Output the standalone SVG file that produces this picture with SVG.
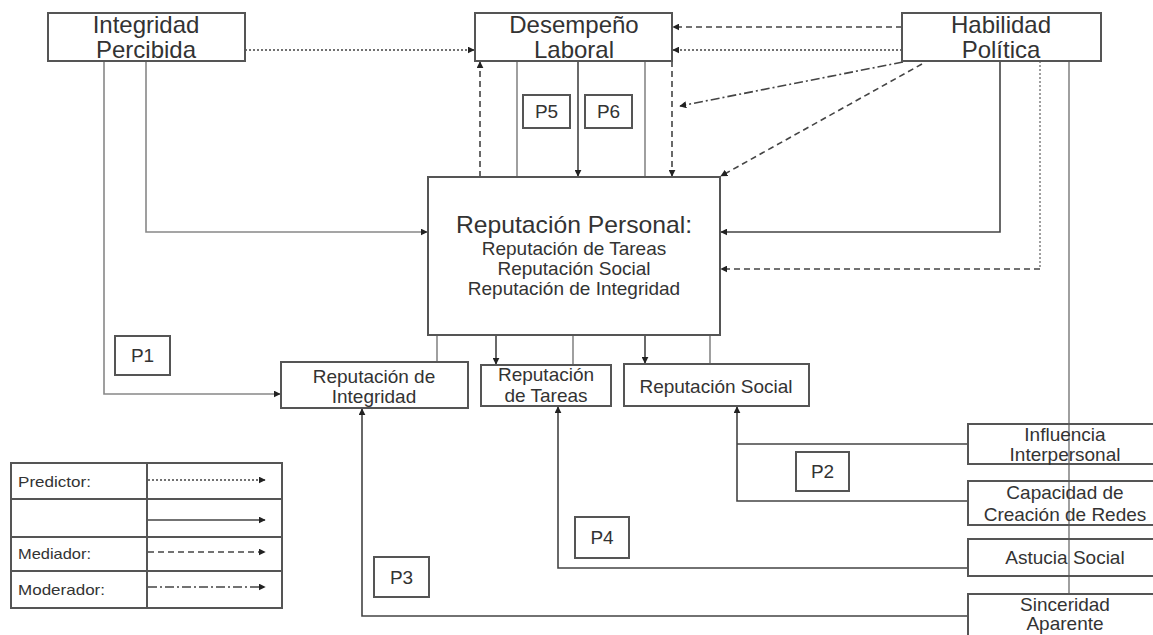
<svg xmlns="http://www.w3.org/2000/svg" width="1153" height="635" viewBox="0 0 1153 635">
  <style>
    text { font-family: "Liberation Sans", Arial, sans-serif; fill: #333; text-anchor: middle; }
    .box { fill: none; stroke: #555; stroke-width: 2; }
    .t24 { font-size: 24px; }
    .t19 { font-size: 19px; }
    .t15 { font-size: 15px; text-anchor: start; }
    .ln { fill: none; stroke: #444; stroke-width: 1.6; }
    .gray { fill: none; stroke: #888; stroke-width: 1.6; }
    .pred { stroke-dasharray: 2 2; }
    .med { stroke-dasharray: 6 4; }
    .mod { stroke-dasharray: 9 3 2 3; }
  </style>
  <defs>
    <marker id="arr" viewBox="0 0 10 10" refX="9" refY="5" markerWidth="7" markerHeight="7" markerUnits="userSpaceOnUse" orient="auto">
      <path d="M0,0 L10,5 L0,10 z" fill="#222"/>
    </marker>
  </defs>

  <rect width="1153" height="635" fill="#fff"/>

  <!-- connectors -->
  <g id="connectors">
    <!-- Integridad Percibida -->
    <path class="ln pred" d="M245,50 H474" marker-end="url(#arr)"/>
    <path class="gray" d="M104,61 V394 H280" marker-end="url(#arr)"/>
    <path class="gray" d="M146,61 V232 H427" marker-end="url(#arr)"/>

    <!-- Habilidad Política to Desempeño Laboral -->
    <path class="ln med" d="M902,27 H673" marker-end="url(#arr)"/>
    <path class="ln pred" d="M902,50 H673" marker-end="url(#arr)"/>

    <!-- Desempeño Laboral / Reputación Personal -->
    <path class="ln med" d="M480,177 V62" marker-end="url(#arr)"/>
    <path class="ln" d="M578,61 V176" marker-end="url(#arr)"/>
    <path class="ln med" d="M672,61 V176" marker-end="url(#arr)"/>
    <path class="gray" d="M517,61 V177"/>
    <path class="gray" d="M645,61 V177"/>

    <!-- Habilidad Política diagonals -->
    <path class="ln mod" d="M903,62 L680,106" marker-end="url(#arr)"/>
    <path class="ln med" d="M922,64 L721,176" marker-end="url(#arr)"/>

    <!-- Habilidad Política to Reputación Personal -->
    <path class="ln" d="M1000,61 V232 H721" marker-end="url(#arr)"/>
    <path class="gray pred" d="M1040,61 V269"/>
    <path class="ln med" d="M1040,269 H721" marker-end="url(#arr)"/>
    <path class="gray" d="M1069,61 V594"/>

    <!-- Reputación Personal to components -->
    <path class="gray" d="M437,335 V362"/>
    <path class="ln" d="M496,335 V364" marker-end="url(#arr)"/>
    <path class="gray" d="M573,335 V365"/>
    <path class="ln" d="M645,335 V363" marker-end="url(#arr)"/>
    <path class="gray" d="M710,335 V364"/>

    <!-- political skill dimensions to components -->
    <path class="ln" d="M968,444 H737"/>
    <path class="ln" d="M968,501 H737 V407" marker-end="url(#arr)"/>
    <path class="ln" d="M968,568 H558 V407" marker-end="url(#arr)"/>
    <path class="ln" d="M968,616 H362 V409" marker-end="url(#arr)"/>
  </g>

  <!-- top row -->
  <g id="integridad-percibida">
    <rect class="box" x="48" y="13" width="197" height="48"/>
    <text class="t24" x="146" y="33">Integridad</text>
    <text class="t24" x="146" y="58">Percibida</text>
  </g>
  <g id="desempeno-laboral">
    <rect class="box" x="475" y="13" width="197" height="48"/>
    <text class="t24" x="574" y="33">Desempeño</text>
    <text class="t24" x="574" y="58">Laboral</text>
  </g>
  <g id="habilidad-politica">
    <rect class="box" x="902" y="13" width="199" height="48"/>
    <text class="t24" x="1001" y="33">Habilidad</text>
    <text class="t24" x="1001" y="58">Política</text>
  </g>

  <!-- proposition labels -->
  <g id="p5"><rect class="box" x="523" y="95" width="47" height="33"/><text class="t19" x="546.5" y="118">P5</text></g>
  <g id="p6"><rect class="box" x="585" y="95" width="47" height="33"/><text class="t19" x="608.5" y="118">P6</text></g>
  <g id="p1"><rect class="box" x="115" y="336" width="55" height="39"/><text class="t19" x="142.5" y="362">P1</text></g>
  <g id="p2"><rect class="box" x="796" y="452" width="53" height="39"/><text class="t19" x="822.5" y="478">P2</text></g>
  <g id="p3"><rect class="box" x="374" y="557" width="55" height="40"/><text class="t19" x="401.5" y="584">P3</text></g>
  <g id="p4"><rect class="box" x="575" y="517" width="54" height="41"/><text class="t19" x="602" y="544">P4</text></g>

  <!-- central construct -->
  <g id="reputacion-personal">
    <rect class="box" x="428" y="177" width="292" height="158"/>
    <text x="574" y="233" font-size="24" textLength="236" lengthAdjust="spacingAndGlyphs">Reputación Personal:</text>
    <text class="t19" x="574" y="255">Reputación de Tareas</text>
    <text class="t19" x="574" y="275">Reputación Social</text>
    <text class="t19" x="574" y="295">Reputación de Integridad</text>
  </g>

  <!-- reputation components -->
  <g id="reputacion-integridad">
    <rect class="box" x="281" y="362" width="187" height="46"/>
    <text class="t19" x="374" y="383">Reputación de</text>
    <text class="t19" x="374" y="403">Integridad</text>
  </g>
  <g id="reputacion-tareas">
    <rect class="box" x="481" y="365" width="130" height="41"/>
    <text class="t19" x="546" y="381">Reputación</text>
    <text class="t19" x="546" y="402">de Tareas</text>
  </g>
  <g id="reputacion-social">
    <rect class="box" x="624" y="364" width="185" height="42"/>
    <text class="t19" x="716" y="393">Reputación Social</text>
  </g>

  <!-- political skill dimensions -->
  <g id="influencia-interpersonal">
    <rect class="box" x="968" y="424" width="195" height="40"/>
    <text class="t19" x="1065" y="441">Influencia</text>
    <text class="t19" x="1065" y="461">Interpersonal</text>
  </g>
  <g id="capacidad-redes">
    <rect class="box" x="968" y="481" width="195" height="44"/>
    <text class="t19" x="1065" y="499">Capacidad de</text>
    <text class="t19" x="1065" y="521">Creación de Redes</text>
  </g>
  <g id="astucia-social">
    <rect class="box" x="968" y="539" width="195" height="37"/>
    <text class="t19" x="1065" y="564">Astucia Social</text>
  </g>
  <g id="sinceridad-aparente">
    <rect class="box" x="968" y="594" width="195" height="50"/>
    <text class="t19" x="1065" y="611">Sinceridad</text>
    <text class="t19" x="1065" y="630">Aparente</text>
  </g>

  <!-- legend -->
  <g id="legend">
    <rect class="box" x="11" y="463" width="271" height="145"/>
    <path class="box" d="M147,463 V608 M11,499 H282 M11,537 H282 M11,571 H282"/>
    <text class="t15" x="18" y="487" textLength="73" lengthAdjust="spacingAndGlyphs">Predictor:</text>
    <text class="t15" x="18" y="559" textLength="73" lengthAdjust="spacingAndGlyphs">Mediador:</text>
    <text class="t15" x="18" y="595" textLength="87" lengthAdjust="spacingAndGlyphs">Moderador:</text>
    <path class="ln pred" d="M148,480 H265" marker-end="url(#arr)"/>
    <path class="ln" d="M148,520 H265" marker-end="url(#arr)"/>
    <path class="ln med" d="M148,552 H265" marker-end="url(#arr)"/>
    <path class="ln mod" d="M148,587 H265" marker-end="url(#arr)"/>
  </g>
</svg>
